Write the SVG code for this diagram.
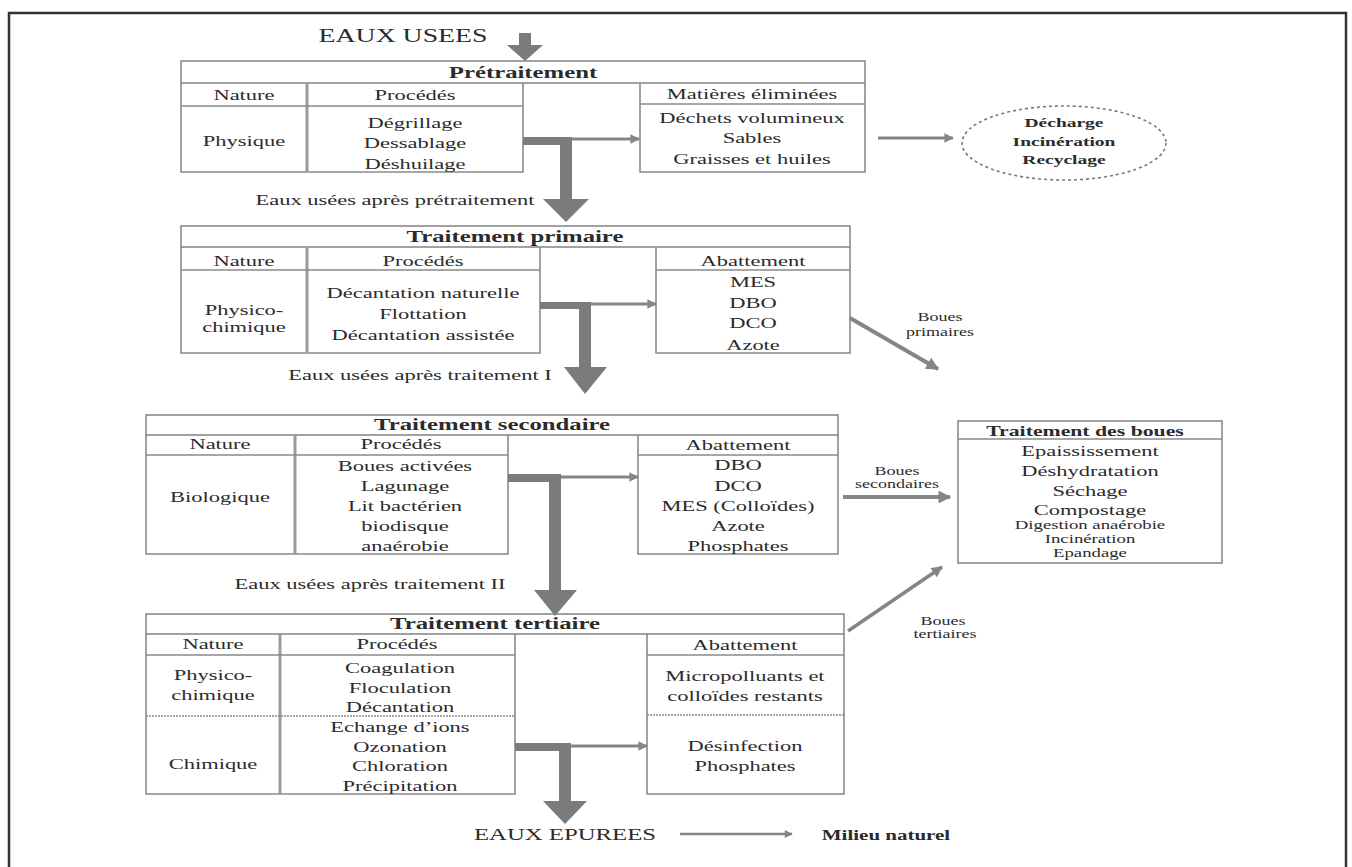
<svg xmlns="http://www.w3.org/2000/svg" width="1352" height="867" viewBox="0 0 1352 867">
<defs>
<style>
.t{font-family:"Liberation Serif","Times New Roman",serif;fill:#2b2b2b;text-anchor:middle}
.h{font-weight:bold;font-size:16.5px}
.c{font-size:15px}
.b{font-size:15px}
.m{font-size:12.5px}
.s{font-size:12px}
.e{font-weight:bold;font-size:13px}
.bx{fill:none;stroke:#8a8a8a;stroke-width:1.6}
.dv{stroke:#9a9a9a;stroke-width:3}
.ln{stroke:#8a8a8a;stroke-width:1.4}
.thk{fill:#7b7b7b}
.thin{stroke:#858585;fill:none}
</style>
<marker id="ah" viewBox="0 0 10 10" refX="9" refY="5" markerWidth="4" markerHeight="3.2" orient="auto">
<path d="M0,0 L10,5 L0,10 z" fill="#858585"/>
</marker>
</defs>
<rect width="1352" height="867" fill="#fff"/>
<path d="M9,867 V13 H1346 V867" fill="none" stroke="#333" stroke-width="2.5"/>

<g id="eaux-usees">
<text class="t" style="font-size:18.5px" transform="translate(403,42) scale(1.5,1)">EAUX USEES</text>
</g>

<g id="pretraitement">
<rect class="bx" x="181" y="61" width="684" height="22"/>
<path class="bx" d="M181,83 V172 H523 V83"/>
<path class="bx" d="M640,83 V172 H865 V83"/>
<line class="dv" x1="307" y1="83" x2="307" y2="172"/>
<line class="ln" x1="181" y1="106" x2="523" y2="106"/>
<line class="ln" x1="640" y1="104" x2="865" y2="104"/>
<text class="t h" transform="translate(523,78) scale(1.5,1)">Prétraitement</text>
<text class="t c" transform="translate(244,100) scale(1.5,1)">Nature</text>
<text class="t c" transform="translate(415,100) scale(1.5,1)">Procédés</text>
<text class="t c" transform="translate(752,99) scale(1.5,1)">Matières éliminées</text>
<text class="t b" transform="translate(244,146) scale(1.5,1)">Physique</text>
<text class="t b" transform="translate(415,128) scale(1.5,1)">Dégrillage</text>
<text class="t b" transform="translate(415,148) scale(1.5,1)">Dessablage</text>
<text class="t b" transform="translate(415,169) scale(1.5,1)">Déshuilage</text>
<text class="t b" transform="translate(752,123) scale(1.5,1)">Déchets volumineux</text>
<text class="t b" transform="translate(752,143) scale(1.5,1)">Sables</text>
<text class="t b" transform="translate(752,164) scale(1.5,1)">Graisses et huiles</text>
</g>

<g id="destination">
<ellipse cx="1064" cy="143" rx="102" ry="37" fill="none" stroke="#777" stroke-width="1.6" stroke-dasharray="3,3"/>
<text class="t e" transform="translate(1064,127) scale(1.5,1)">Décharge</text>
<text class="t e" transform="translate(1064,146) scale(1.5,1)">Incinération</text>
<text class="t e" transform="translate(1064,164) scale(1.5,1)">Recyclage</text>
</g>

<g id="label-pretraitement">
<text class="t b" transform="translate(395,205) scale(1.5,1)">Eaux usées après prétraitement</text>
</g>

<g id="primaire">
<rect class="bx" x="181" y="226" width="669" height="21"/>
<path class="bx" d="M181,247 V353 H540 V247"/>
<path class="bx" d="M656,247 V353 H850 V247"/>
<line class="dv" x1="307" y1="247" x2="307" y2="353"/>
<line class="ln" x1="181" y1="270" x2="540" y2="270"/>
<line class="ln" x1="656" y1="270" x2="850" y2="270"/>
<text class="t h" transform="translate(515,242) scale(1.5,1)">Traitement primaire</text>
<text class="t c" transform="translate(244,266) scale(1.5,1)">Nature</text>
<text class="t c" transform="translate(423,266) scale(1.5,1)">Procédés</text>
<text class="t c" transform="translate(753,266) scale(1.5,1)">Abattement</text>
<text class="t b" transform="translate(244,315) scale(1.5,1)">Physico-</text>
<text class="t b" transform="translate(244,332) scale(1.5,1)">chimique</text>
<text class="t b" transform="translate(423,298) scale(1.5,1)">Décantation naturelle</text>
<text class="t b" transform="translate(423,319) scale(1.5,1)">Flottation</text>
<text class="t b" transform="translate(423,340) scale(1.5,1)">Décantation assistée</text>
<text class="t b" transform="translate(753,287) scale(1.5,1)">MES</text>
<text class="t b" transform="translate(753,308) scale(1.5,1)">DBO</text>
<text class="t b" transform="translate(753,328) scale(1.5,1)">DCO</text>
<text class="t b" transform="translate(753,350) scale(1.5,1)">Azote</text>
</g>

<g id="label-primaire">
<text class="t b" transform="translate(420,380) scale(1.5,1)">Eaux usées après traitement I</text>
<text class="t s" transform="translate(940,321) scale(1.5,1)">Boues</text>
<text class="t s" transform="translate(940,336) scale(1.5,1)">primaires</text>
</g>

<g id="secondaire">
<rect class="bx" x="146" y="415" width="692" height="20"/>
<path class="bx" d="M146,435 V554 H508 V435"/>
<path class="bx" d="M638,435 V554 H838 V435"/>
<line class="dv" x1="295" y1="435" x2="295" y2="554"/>
<line class="ln" x1="146" y1="455" x2="508" y2="455"/>
<line class="ln" x1="638" y1="455" x2="838" y2="455"/>
<text class="t h" transform="translate(492,430) scale(1.5,1)">Traitement secondaire</text>
<text class="t c" transform="translate(220,449) scale(1.5,1)">Nature</text>
<text class="t c" transform="translate(401,449) scale(1.5,1)">Procédés</text>
<text class="t c" transform="translate(738,450) scale(1.5,1)">Abattement</text>
<text class="t b" transform="translate(220,502) scale(1.5,1)">Biologique</text>
<text class="t b" transform="translate(405,471) scale(1.5,1)">Boues activées</text>
<text class="t b" transform="translate(405,491) scale(1.5,1)">Lagunage</text>
<text class="t b" transform="translate(405,511) scale(1.5,1)">Lit bactérien</text>
<text class="t b" transform="translate(405,531) scale(1.5,1)">biodisque</text>
<text class="t b" transform="translate(405,551) scale(1.5,1)">anaérobie</text>
<text class="t b" transform="translate(738,470) scale(1.5,1)">DBO</text>
<text class="t b" transform="translate(738,491) scale(1.5,1)">DCO</text>
<text class="t b" transform="translate(738,511) scale(1.5,1)">MES (Colloïdes)</text>
<text class="t b" transform="translate(738,531) scale(1.5,1)">Azote</text>
<text class="t b" transform="translate(738,551) scale(1.5,1)">Phosphates</text>
</g>

<g id="label-secondaire">
<text class="t b" transform="translate(370,589) scale(1.5,1)">Eaux usées après traitement II</text>
<text class="t s" transform="translate(897,475) scale(1.5,1)">Boues</text>
<text class="t s" transform="translate(897,488) scale(1.5,1)">secondaires</text>
</g>

<g id="traitement-boues">
<rect class="bx" x="958" y="421" width="264" height="142"/>
<line class="ln" x1="958" y1="439" x2="1222" y2="439"/>
<text class="t" style="font-weight:bold;font-size:14.5px" transform="translate(1085,436) scale(1.5,1)">Traitement des boues</text>
<text class="t b" transform="translate(1090,456) scale(1.5,1)">Epaississement</text>
<text class="t b" transform="translate(1090,476) scale(1.5,1)">Déshydratation</text>
<text class="t b" transform="translate(1090,496) scale(1.5,1)">Séchage</text>
<text class="t b" transform="translate(1090,515) scale(1.5,1)">Compostage</text>
<text class="t m" transform="translate(1090,529) scale(1.5,1)">Digestion anaérobie</text>
<text class="t m" transform="translate(1090,543) scale(1.5,1)">Incinération</text>
<text class="t m" transform="translate(1090,557) scale(1.5,1)">Epandage</text>
</g>

<g id="tertiaire">
<rect class="bx" x="146" y="614" width="698" height="20"/>
<path class="bx" d="M146,634 V794 H515 V634"/>
<path class="bx" d="M647,634 V794 H844 V634"/>
<line class="dv" x1="280" y1="634" x2="280" y2="794"/>
<line class="ln" x1="146" y1="655" x2="515" y2="655"/>
<line class="ln" x1="647" y1="655" x2="844" y2="655"/>
<line class="ln" x1="146" y1="716" x2="515" y2="716" stroke-dasharray="2,1"/>
<line class="ln" x1="647" y1="715" x2="844" y2="715" stroke-dasharray="2,1"/>
<text class="t h" transform="translate(495,629) scale(1.5,1)">Traitement tertiaire</text>
<text class="t c" transform="translate(213,649) scale(1.5,1)">Nature</text>
<text class="t c" transform="translate(397,649) scale(1.5,1)">Procédés</text>
<text class="t c" transform="translate(745,650) scale(1.5,1)">Abattement</text>
<text class="t b" transform="translate(213,680) scale(1.5,1)">Physico-</text>
<text class="t b" transform="translate(213,700) scale(1.5,1)">chimique</text>
<text class="t b" transform="translate(213,769) scale(1.5,1)">Chimique</text>
<text class="t b" transform="translate(400,673) scale(1.5,1)">Coagulation</text>
<text class="t b" transform="translate(400,693) scale(1.5,1)">Floculation</text>
<text class="t b" transform="translate(400,712) scale(1.5,1)">Décantation</text>
<text class="t b" transform="translate(400,732) scale(1.5,1)">Echange d’ions</text>
<text class="t b" transform="translate(400,752) scale(1.5,1)">Ozonation</text>
<text class="t b" transform="translate(400,771) scale(1.5,1)">Chloration</text>
<text class="t b" transform="translate(400,791) scale(1.5,1)">Précipitation</text>
<text class="t b" transform="translate(745,681) scale(1.5,1)">Micropolluants et</text>
<text class="t b" transform="translate(745,701) scale(1.5,1)">colloïdes restants</text>
<text class="t b" transform="translate(745,751) scale(1.5,1)">Désinfection</text>
<text class="t b" transform="translate(745,771) scale(1.5,1)">Phosphates</text>
</g>

<g id="label-tertiaire">
<text class="t s" transform="translate(943,625) scale(1.5,1)">Boues</text>
<text class="t s" transform="translate(945,638) scale(1.5,1)">tertiaires</text>
</g>

<g id="eaux-epurees">
<text class="t" style="font-size:16.5px" transform="translate(565,840) scale(1.5,1)">EAUX EPUREES</text>
</g>
<g id="milieu-naturel">
<text class="t" style="font-weight:bold;font-size:14px" transform="translate(886,840) scale(1.5,1)">Milieu naturel</text>
</g>

<g id="connectors">
<rect class="thk" x="519" y="33" width="12" height="13"/>
<polygon class="thk" points="507,45 543,45 525,61"/>

<rect class="thk" x="523" y="137" width="49" height="8"/>
<rect class="thk" x="560" y="137" width="12" height="63"/>
<polygon class="thk" points="543,199 589,199 566,222"/>
<line class="thin" x1="572" y1="139" x2="639" y2="139" stroke-width="3" marker-end="url(#ah)"/>

<line class="thin" x1="878" y1="138" x2="953" y2="138" stroke-width="3" marker-end="url(#ah)"/>

<rect class="thk" x="540" y="302" width="51" height="7"/>
<rect class="thk" x="579" y="302" width="12" height="66"/>
<polygon class="thk" points="564,367 607,367 585,394"/>
<line class="thin" x1="591" y1="304" x2="656" y2="304" stroke-width="3" marker-end="url(#ah)"/>

<line class="thin" x1="850" y1="318" x2="938" y2="369" stroke-width="4" marker-end="url(#ah)"/>

<rect class="thk" x="508" y="474" width="53" height="8"/>
<rect class="thk" x="549" y="474" width="12" height="117"/>
<polygon class="thk" points="534,590 577,590 555,616"/>
<line class="thin" x1="561" y1="477" x2="638" y2="477" stroke-width="3" marker-end="url(#ah)"/>

<line class="thin" x1="843" y1="497" x2="950" y2="497" stroke-width="4" marker-end="url(#ah)"/>
<line class="thin" x1="848" y1="631" x2="942" y2="567" stroke-width="3.5" marker-end="url(#ah)"/>

<rect class="thk" x="515" y="743" width="56" height="8"/>
<rect class="thk" x="559" y="743" width="12" height="59"/>
<polygon class="thk" points="543,801 587,801 565,824"/>
<line class="thin" x1="571" y1="746" x2="647" y2="746" stroke-width="3" marker-end="url(#ah)"/>

<line class="thin" x1="680" y1="834" x2="792" y2="834" stroke-width="2.5" marker-end="url(#ah)"/>
</g>
</svg>
